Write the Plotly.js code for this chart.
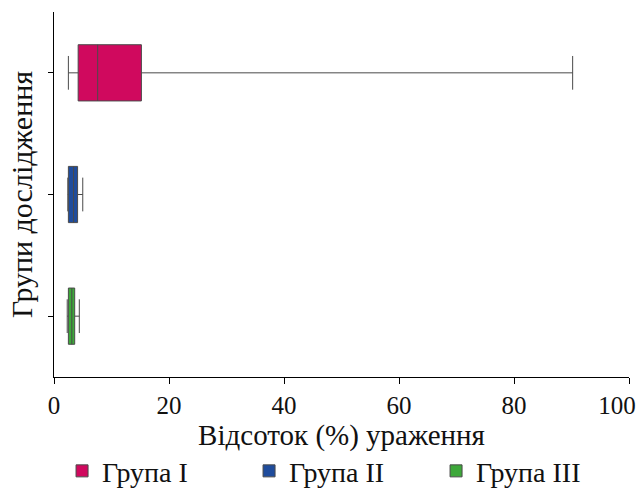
<!DOCTYPE html>
<html>
<head>
<meta charset="utf-8">
<script src="https://cdn.plot.ly/plotly-3.0.1.min.js"></script>
<style>html,body{margin:0;padding:0;background:#fff;}#chart{width:638px;height:498px;}</style>
</head>
<body>
<div id="chart"></div>
<script>
const groups = ["Група I", "Група II", "Група III"];
const lowerFence = [2.5, 2.4, 2.3];
const q1 = [4.2, 2.5, 2.5];
const median = [7.6, 3.4, 3.1];
const q3 = [15.2, 4.1, 3.6];
const upperFence = [90.2, 5.0, 4.4];
const fillColors = ["#D0095E", "#1F4C9C", "#3DA83A"];
const xTickVals = [0, 20, 40, 60, 80, 100];
const xTickText = ["0", "20", "40", "60", "80", ""];
const xLastTickVal = [100];
const xLastTickText = ["100"];

const FONT = "Liberation Serif";

const traces = groups.map((g, i) => ({
  type: "box",
  orientation: "h",
  name: g,
  y: [g],
  q1: [q1[i]],
  median: [median[i]],
  q3: [q3[i]],
  lowerfence: [lowerFence[i]],
  upperfence: [upperFence[i]],
  fillcolor: fillColors[i],
  line: {color: "#4a4a4a", width: 1},
  whiskerwidth: 0.6,
  hoverinfo: "skip"
}));
// empty helper trace so the overlay axis carrying the "100" label is drawn
traces.push({type: "scatter", x: [], y: [], xaxis: "x2", yaxis: "y",
             showlegend: false, hoverinfo: "skip"});

const layout = {
  width: 638, height: 498,
  margin: {l: 54, r: 9, t: 12, b: 121, autoexpand: false},
  paper_bgcolor: "#fff", plot_bgcolor: "#fff",
  font: {family: FONT, color: "#111", size: 25},
  boxgap: 0.34,
  showlegend: true,
  legend: {orientation: "h", x: 0.014, xanchor: "left", y: -0.258, yanchor: "middle",
           font: {family: FONT, size: 28}, itemwidth: 30, entrywidth: 142, entrywidthmode: "pixels"},
  xaxis: {
    range: [0, 100], tickvals: xTickVals, ticktext: xTickText,
    showgrid: false, zeroline: false, showline: true, linecolor: "#000", linewidth: 1,
    ticks: "outside", ticklen: 6, tickcolor: "#000",
    tickfont: {family: FONT, size: 25},
    title: {text: "Відсоток (%) ураження", font: {family: FONT, size: 29}, standoff: 5}
  },
  xaxis2: {
    overlaying: "x", anchor: "y", side: "bottom", range: [0, 100],
    tickvals: xLastTickVal, ticktext: xLastTickText,
    showgrid: false, zeroline: false, showline: false, ticks: "outside", ticklen: 6, tickcolor: "#000",
    ticklabelshift: -12, ticklabeloverflow: "allow",
    tickfont: {family: FONT, size: 25}
  },
  yaxis: {
    type: "category", categoryorder: "array", categoryarray: groups,
    autorange: "reversed",
    showgrid: false, zeroline: false, showline: true, linecolor: "#000", linewidth: 1,
    ticks: "outside", ticklen: 5, tickcolor: "#000", showticklabels: false,
    title: {text: "Групи дослідження", font: {family: FONT, size: 30}, standoff: 6}
  }
};

Plotly.newPlot("chart", traces, layout, {displayModeBar: false, staticPlot: true});
</script>
</body>
</html>
